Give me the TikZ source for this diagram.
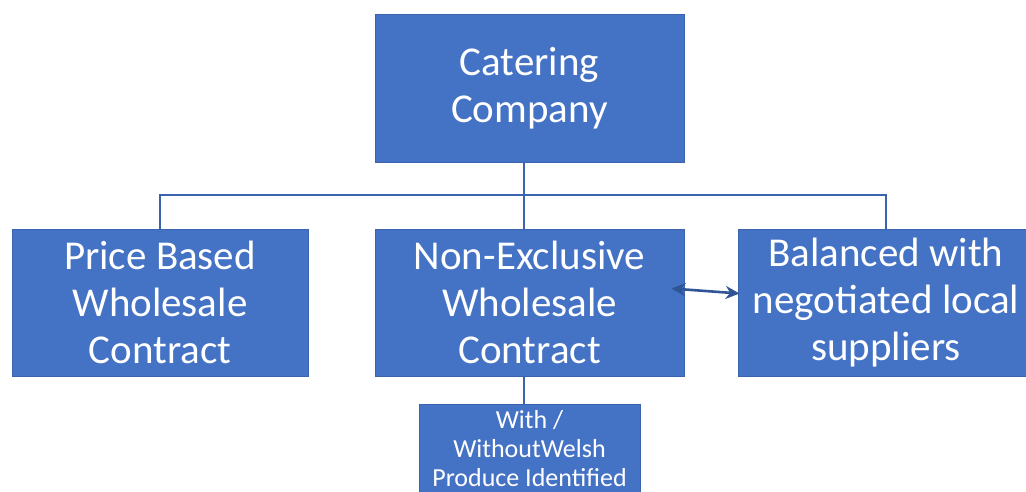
\documentclass[tikz,border=0pt]{standalone}
\usepackage{fontspec}
\setmainfont{Carlito}
\usetikzlibrary{arrows.meta}
\definecolor{boxblue}{HTML}{4472C4}
\definecolor{edgeblue}{HTML}{3A64AE}
\definecolor{linkblue}{HTML}{2F5597}
\begin{document}
\begin{tikzpicture}[x=1pt,y=-1pt,
  bigbox/.style={draw=edgeblue,line width=0.8pt,fill=boxblue,text=white,align=center,
    inner sep=0pt,font=\fontsize{41}{47}\selectfont},
  smallbox/.style={draw=edgeblue,line width=0.8pt,fill=boxblue,text=white,align=center,
    inner sep=0pt,font=\fontsize{26}{29}\selectfont},
  conn/.style={draw=edgeblue,line width=1.6pt},
  link/.style={draw=linkblue,line width=2.6pt,{Stealth[length=14pt,width=13pt]}-{Stealth[length=14pt,width=13pt]}}]
\useasboundingbox (0,0) rectangle (1026,491);
\clip (0,0) rectangle (1026,491);
\node[bigbox,minimum width=309pt,minimum height=148pt] (top) at (529.5,88) {Catering\\Company};
\node[bigbox,minimum width=296pt,minimum height=147pt] (left) at (160,302.5) {Price Based\\Wholesale\\Contract};
\node[bigbox,minimum width=309pt,minimum height=147pt] (mid) at (529.5,302.5) {Non-Exclusive\\Wholesale\\Contract};
\node[bigbox,minimum width=296pt,minimum height=147pt] (right) at (886,302.5) {Balanced with\\negotiated local\\suppliers};
\node[smallbox,minimum width=221pt,minimum height=88pt,anchor=north] (bot) at (529.5,404) {With /\\WithoutWelsh\\Produce Identified};
\coordinate (j) at (524,195);
\draw[conn] (j |- top.south) -- (j |- mid.north);
\draw[conn] (left.north) |- (j) -| (right.north);
\draw[conn] (j |- mid.south) -- (j |- bot.north);
\draw[link] ([xshift=-13pt,yshift=14pt]mid.east) -- ([xshift=2pt,yshift=9pt]right.west);
\end{tikzpicture}
\end{document}
